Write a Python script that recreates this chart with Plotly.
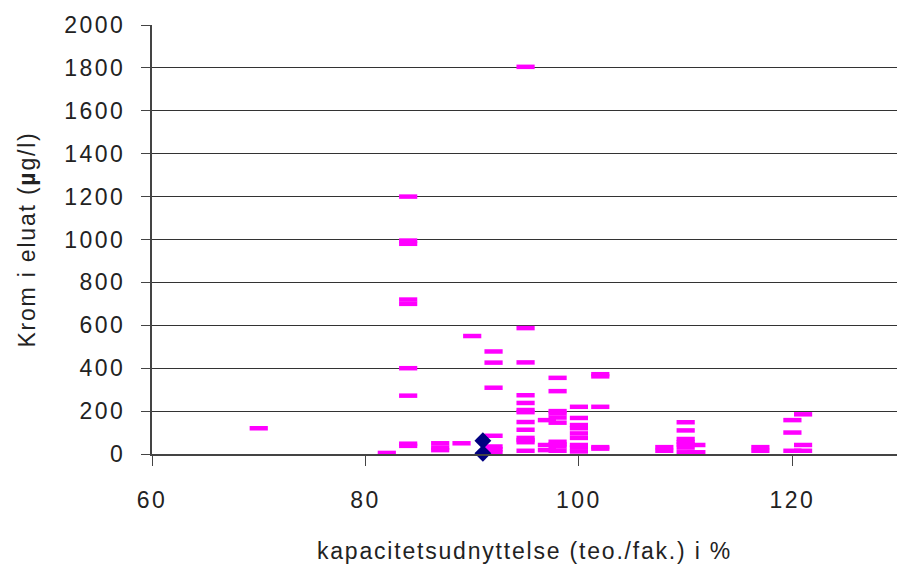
import plotly.graph_objects as go

# Pink series: capacity utilisation (%) and chromium in eluate (µg/l)
pink_x = (
    [70]
    + [82]
    + [84] * 9
    + [87] * 3
    + [89]
    + [90]
    + [92] * 7
    + [95] * 13
    + [97] * 3
    + [98] * 10
    + [100] * 9
    + [102] * 5
    + [108] * 2
    + [110] * 7
    + [111] * 2
    + [117] * 2
    + [120] * 3
    + [121] * 3
)
pink_y = (
    [120]
    + [5]
    + [1200, 995, 980, 720, 700, 400, 272, 48, 38]
    + [50, 30, 18]
    + [50]
    + [550]
    + [478, 426, 309, 85, 35, 22, 8]
    + [1805, 587, 427, 274, 238, 205, 195, 149, 113, 75, 65, 55, 15]
    + [158, 42, 18]
    + [355, 293, 200, 190, 170, 146, 57, 45, 35, 15]
    + [220, 168, 135, 120, 96, 75, 42, 30, 12]
    + [372, 362, 220, 32, 25]
    + [32, 15]
    + [148, 110, 70, 55, 45, 30, 8]
    + [42, 8]
    + [32, 15]
    + [158, 100, 15]
    + [185, 42, 15]
)

# Navy series
navy_x = [91, 91]
navy_y = [62, 3]

x_ticks = [60, 80, 100, 120]
y_ticks = list(range(0, 2001, 200))

FONT = "Liberation Sans, Arial, sans-serif"

fig = go.Figure()
fig.add_trace(go.Scatter(
    x=pink_x, y=pink_y, mode="markers", cliponaxis=False,
    marker=dict(symbol="line-ew", size=13, color="#FF00FF",
                line=dict(color="#FF00FF", width=4.5)),
    showlegend=False, hoverinfo="x+y",
))
fig.add_trace(go.Scatter(
    x=navy_x, y=navy_y, mode="markers", cliponaxis=False,
    marker=dict(symbol="diamond", size=13, color="#000080",
                line=dict(width=0)),
    showlegend=False, hoverinfo="x+y",
))

fig.update_layout(
    width=897, height=570,
    margin=dict(l=152, r=0, t=25, b=116),
    paper_bgcolor="white", plot_bgcolor="white",
    font=dict(family=FONT, size=23, color="#222222"),
)
fig.update_xaxes(
    range=[60, 129.8], tickvals=x_ticks, ticktext=[str(v) for v in x_ticks],
    showgrid=False, zeroline=False,
    showline=True, linecolor="#444444", linewidth=2,
    ticks="outside", ticklen=10, tickcolor="#444444", tickwidth=1,
    ticklabelstandoff=14,
    title=dict(text="kapacitetsudnyttelse (teo./fak.) i %", standoff=31,
               font=dict(family=FONT, size=23, color="#222222")),
)
fig.update_yaxes(
    range=[0, 2000], tickvals=y_ticks, ticktext=[str(v) for v in y_ticks],
    showgrid=True, gridcolor="#333333", gridwidth=1, zeroline=False,
    showline=True, linecolor="#444444", linewidth=2,
    ticks="outside", ticklen=9, tickcolor="#444444", tickwidth=1,
    ticklabelstandoff=11,
    title=dict(text="Krom i eluat (<b>µ</b>g/l)", standoff=32,
               font=dict(family=FONT, size=23, color="#222222")),
)

post = """
document.body.style.margin = '0';
var st = document.createElement('style');
st.innerHTML = '.xtick text, .ytick text {letter-spacing: 2.5px;} ' +
               '.g-xtitle text, .g-ytitle text {letter-spacing: 1.8px;}';
document.head.appendChild(st);
"""

fig.write_html("out.html", post_script=post, config={"displayModeBar": False})
